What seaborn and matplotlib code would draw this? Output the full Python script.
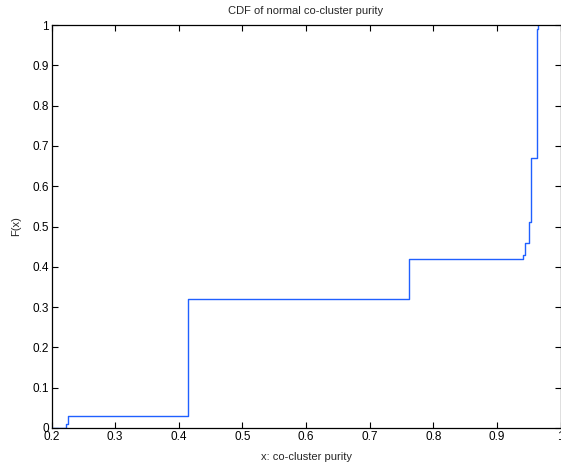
import numpy as np
import pandas as pd
import matplotlib
matplotlib.use('Agg')
import matplotlib.pyplot as plt
import seaborn as sns

# step positions of the empirical CDF and the level reached after each step
purity = [0.2, 0.2223, 0.226, 0.414, 0.761, 0.941, 0.944, 0.950, 0.953, 0.963, 0.965]
cdf_val = [0.0, 0.01, 0.03, 0.32, 0.42, 0.43, 0.46, 0.51, 0.67, 0.99, 1.0]

x_ticks = [0.2, 0.3, 0.4, 0.5, 0.6, 0.7, 0.8, 0.9, 1.0]
x_labels = ['0.2', '0.3', '0.4', '0.5', '0.6', '0.7', '0.8', '0.9', '1']
y_ticks = [0, 0.1, 0.2, 0.3, 0.4, 0.5, 0.6, 0.7, 0.8, 0.9, 1.0]
y_labels = ['0', '0.1', '0.2', '0.3', '0.4', '0.5', '0.6', '0.7', '0.8', '0.9', '1']

df = pd.DataFrame({'x': purity, 'F': cdf_val})

sns.set_style('ticks')
plt.rcParams['font.family'] = ['Liberation Sans', 'DejaVu Sans']

fig = plt.figure(figsize=(5.61, 4.66), dpi=100)
ax = fig.add_axes([51.5 / 561, 38 / 466, (560.6 - 51.5) / 561, 403 / 466])

sns.lineplot(data=df, x='x', y='F', ax=ax, estimator=None, sort=False,
             drawstyle='steps-post', color='#2060ff', linewidth=1.0)

ax.set_xlim(0.2, 1.0)
ax.set_ylim(0, 1)
ax.set_xticks(x_ticks)
ax.set_xticklabels(x_labels)
ax.set_yticks(y_ticks)
ax.set_yticklabels(y_labels)
ax.tick_params(direction='in', length=4, width=0.8, top=True, right=True,
               labelsize=8.5, pad=2, colors='black')
for s in ax.spines.values():
    s.set_visible(True)
    s.set_linewidth(0.9)
    s.set_color('black')

ax.set_title('CDF of normal co-cluster purity', fontsize=8, pad=8)
ax.set_xlabel('x: co-cluster purity', fontsize=8, labelpad=7)
ax.set_ylabel('F(x)', fontsize=8, labelpad=8)

fig.savefig('out.png', dpi=100)
